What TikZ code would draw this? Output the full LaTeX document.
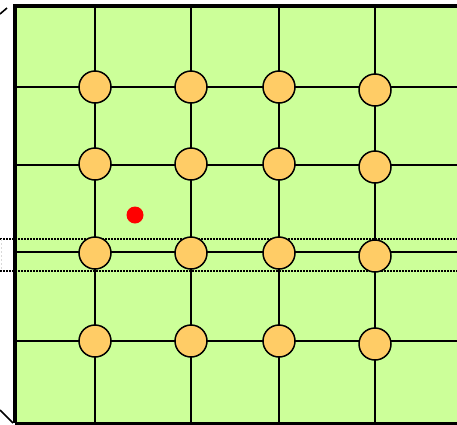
\documentclass[tikz,border=0pt]{standalone}
\usepackage{tikz}

\definecolor{cellgreen}{HTML}{CCFF99}
\definecolor{jointorange}{HTML}{FFCC66}

\begin{document}
\begin{tikzpicture}[x=1pt, y=-1pt,
        gridline/.style={line width=1.6pt},
        joint/.style={circle, draw, fill=jointorange, line width=1.5pt, minimum size=32pt, inner sep=0pt},
        probe/.style={circle, fill=red, minimum size=17pt, inner sep=0pt},
        sliceline/.style={line width=1.6pt, dash pattern=on 1.6pt off 1.4pt}]
        \useasboundingbox (0,0) rectangle (457,424);
        \clip (0,0) rectangle (457,424);

        % Panel
        \begin{scope}
            \fill[cellgreen] (15,6) rectangle (470,423);
            \draw[line width=1.6pt] (0,14) -- (7,8);
            \draw[line width=1.6pt] (0,410) -- (13,423);
        \end{scope}

        % Grid
        \begin{scope}
            \draw[gridline] (95,6) -- (95,423);
            \draw[gridline] (191,6) -- (191,423);
            \draw[gridline] (279,6) -- (279,423);
            \draw[gridline] (375,6) -- (375,423);
            \draw[gridline] (15,87) -- (470,87);
            \draw[gridline] (15,165) -- (470,165);
            \draw[gridline] (15,252) -- (470,252);
            \draw[gridline] (15,341) -- (470,341);
        \end{scope}

        % Slice
        \draw[sliceline] (0,239) -- (457,239);
        \draw[sliceline] (0,271) -- (457,271);
        \draw[gray!30, line width=1pt, dash pattern=on 2pt off 2pt] (1,239) -- (1,271);

        \draw[line width=4pt] (15,423) -- (15,6) -- (470,6);
        \draw[line width=3pt] (15,423) -- (470,423);

        % Joints
        \node[joint] (j11) at (95,87) {};
        \node[joint] (j12) at (191,87) {};
        \node[joint] (j13) at (279,87) {};
        \node[joint] (j14) at (375,90) {};
        \node[joint] (j21) at (95,164) {};
        \node[joint] (j22) at (191,164) {};
        \node[joint] (j23) at (279,164) {};
        \node[joint] (j24) at (375,167) {};
        \node[joint] (j31) at (95,253) {};
        \node[joint] (j32) at (191,253) {};
        \node[joint] (j33) at (279,253) {};
        \node[joint] (j34) at (375,256) {};
        \node[joint] (j41) at (95,341) {};
        \node[joint] (j42) at (191,341) {};
        \node[joint] (j43) at (279,341) {};
        \node[joint] (j44) at (375,344) {};

        \node[probe] (p) at (135,215) {};
    \end{tikzpicture}
\end{document}
